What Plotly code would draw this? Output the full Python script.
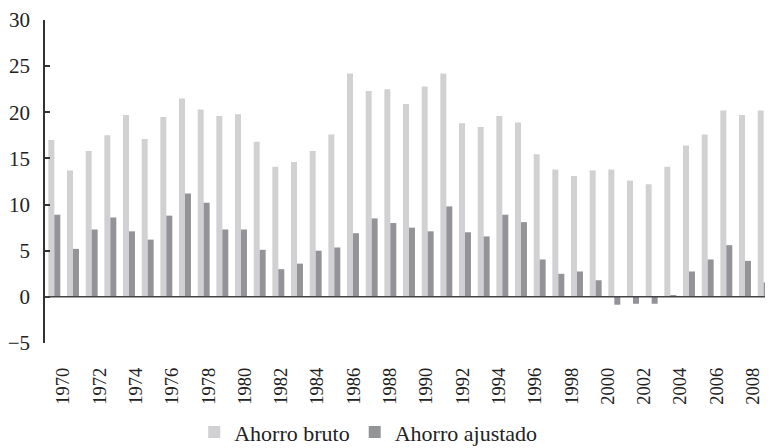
import plotly.graph_objects as go

years = list(range(1970, 2009))
ahorro_bruto = [17.0, 13.7, 15.8, 17.5, 19.7, 17.1, 19.5, 21.5, 20.3, 19.6,
                19.8, 16.8, 14.1, 14.6, 15.8, 17.6, 24.2, 22.3, 22.5, 20.9,
                22.8, 24.2, 18.8, 18.4, 19.6, 18.9, 15.45, 13.8, 13.1, 13.7,
                13.8, 12.6, 12.2, 14.1, 16.4, 17.6, 20.2, 19.7, 20.2]
ahorro_ajustado = [8.9, 5.2, 7.3, 8.6, 7.1, 6.2, 8.8, 11.2, 10.2, 7.3,
                   7.3, 5.1, 3.0, 3.6, 5.0, 5.35, 6.9, 8.5, 8.0, 7.5,
                   7.1, 9.8, 7.0, 6.55, 8.9, 8.1, 4.05, 2.5, 2.75, 1.8,
                   -0.85, -0.75, -0.75, 0.15, 2.75, 4.05, 5.6, 3.9, 1.55]
tick_years = list(range(1970, 2009, 2))
y_ticks = [-5, 0, 5, 10, 15, 20, 25, 30]

FONT = "Liberation Serif, Times New Roman, Times, serif"

fig = go.Figure()
fig.add_trace(go.Bar(x=years, y=ahorro_bruto, name="Ahorro bruto",
                     marker=dict(color="#d1d1d3", line=dict(width=0))))
fig.add_trace(go.Bar(x=years, y=ahorro_ajustado, name="Ahorro ajustado",
                     marker=dict(color="#939497", line=dict(width=0))))
# invisible helper trace so the label axis (slightly different spacing in the original) is drawn
fig.add_trace(go.Scatter(x=tick_years, y=[0] * len(tick_years), xaxis="x2", yaxis="y",
                         mode="markers", marker=dict(opacity=0), showlegend=False,
                         hoverinfo="skip"))

fig.add_hline(y=0, line=dict(color="#444444", width=1.5), layer="above")

# page body has an 8px margin, so the figure is sized/offset to compensate
fig.update_layout(
    width=765, height=440,
    margin=dict(l=37, r=0, t=12, b=105),
    paper_bgcolor="white", plot_bgcolor="white",
    barmode="group", bargap=0.36, bargroupgap=0,
    font=dict(family=FONT, color="#222222", size=21),
    showlegend=True,
    legend=dict(orientation="h", x=0.444, xanchor="center",
                yref="container", y=0.036, yanchor="middle",
                font=dict(family=FONT, size=22, color="#222222"),
                traceorder="normal"),
    xaxis=dict(
        range=[1969.5, 2008.5], showticklabels=False,
        showline=False, showgrid=False, zeroline=False, ticks="",
        automargin=False,
    ),
    xaxis2=dict(
        overlaying="x", anchor="y", side="bottom",
        range=[1968.99, 2009.10], tickmode="array", tickvals=tick_years,
        ticktext=[str(y) for y in tick_years], tickangle=-90,
        showline=False, showgrid=False, zeroline=False, ticks="",
        tickfont=dict(family=FONT, size=18.5, color="#222222"),
        ticklabelstandoff=20, ticklabeloverflow="allow", automargin=False,
    ),
)
fig.update_yaxes(
    range=[-5, 30], tickmode="array", tickvals=y_ticks,
    showline=True, linecolor="#333333", linewidth=1.5,
    ticks="inside", ticklen=5, tickcolor="#333333", tickwidth=1.5,
    showgrid=False, zeroline=False,
    tickfont=dict(family=FONT, size=21, color="#222222"),
    ticklabelstandoff=9, automargin=False,
)

fig.write_html("out.html")
